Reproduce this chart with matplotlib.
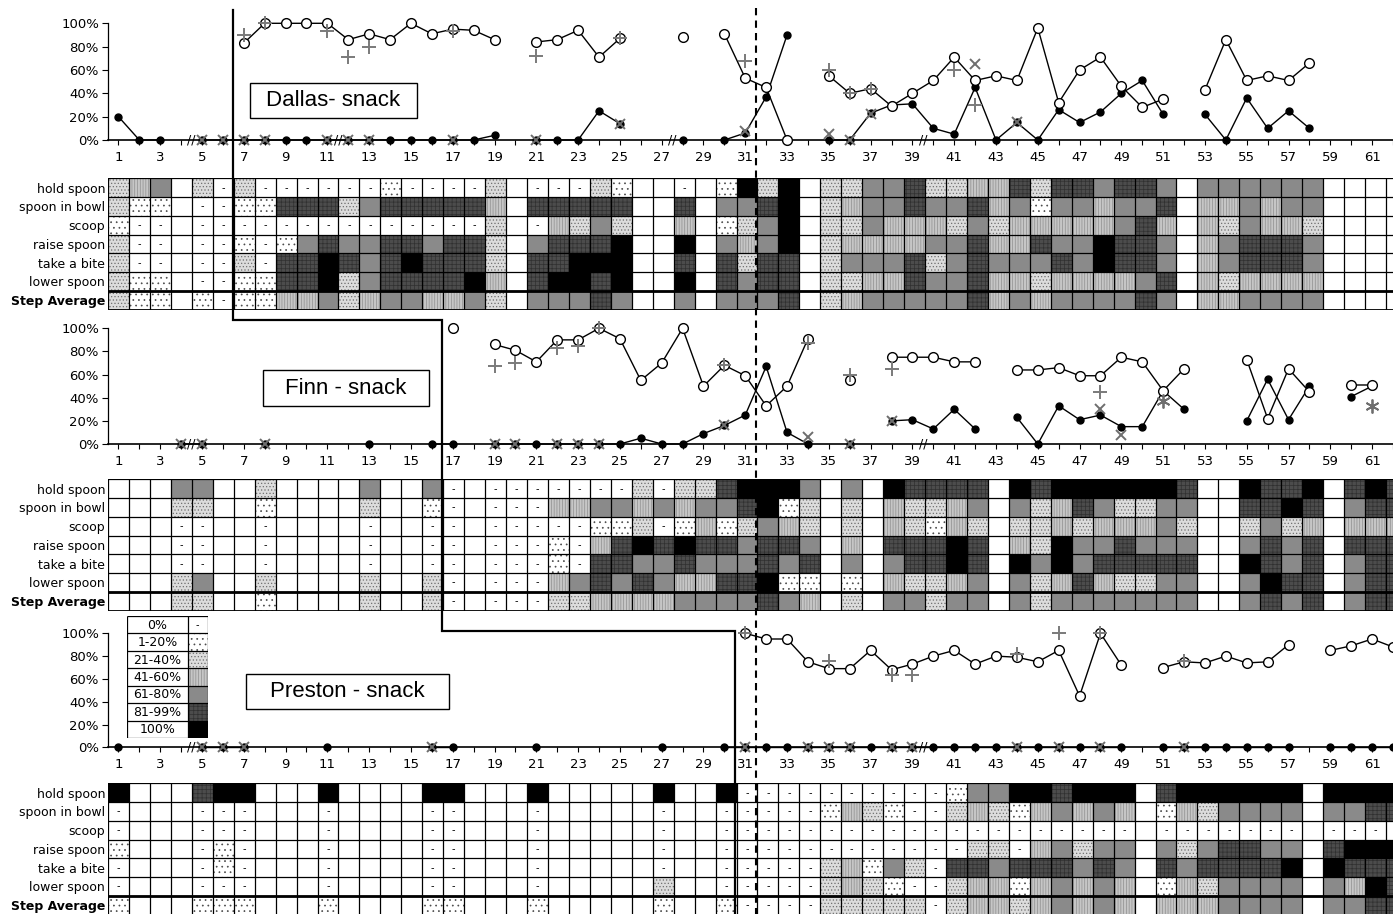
import numpy as np
import matplotlib
matplotlib.use("Agg")
import matplotlib.pyplot as plt
from matplotlib.lines import Line2D
from matplotlib.patches import Rectangle

# ------------------------------------------------------------------ data
sessions = np.arange(1, 63)
x_tick_values = list(range(1, 62, 2))
x_tick_labels = [str(s) for s in x_tick_values]
pct_ticks = [0, 20, 40, 60, 80, 100]
pct_labels = [f"{p}%" for p in pct_ticks]
step_labels = ["hold spoon", "spoon in bowl", "scoop", "raise spoon",
               "take a bite", "lower spoon", "Step Average"]
level_labels = ["0%", "1-20%", "21-40%", "41-60%", "61-80%", "81-99%", "100%"]
subject_titles = ["Dallas- snack", "Finn - snack", "Preston - snack"]

# Dallas line graph
dallas_open_s = [7, 8, 9, 10, 11, 12, 13, 14, 15, 16, 17, 18, 19, 21, 22, 23, 24, 25, 28,
                 30, 31, 32, 33, 35, 36, 37, 38, 39, 40, 41, 42, 43, 44, 45, 46, 47, 48, 49, 50, 51,
                 53, 54, 55, 56, 57, 58]
dallas_open_v = [83, 100, 100, 100, 100, 86, 91, 86, 100, 91, 95, 94, 86, 84, 86, 94, 71, 87, 88,
                 91, 53, 45, 0, 55, 40, 44, 29, 40, 51, 71, 51, 55, 51, 96, 32, 60, 71, 46, 28, 35,
                 43, 86, 51, 55, 51, 66]
dallas_fill_s = [1, 2, 3, 5, 6, 7, 8, 9, 10, 11, 12, 13, 14, 15, 16, 17, 18, 19, 21, 22, 23, 24, 25, 28,
                 30, 31, 32, 33, 35, 36, 37, 38, 39, 40, 41, 42, 43, 44, 45, 46, 47, 48, 49, 50, 51,
                 53, 54, 55, 56, 57, 58]
dallas_fill_v = [20, 0, 0, 0, 0, 0, 0, 0, 0, 0, 0, 0, 0, 0, 0, 0, 0, 4, 0, 0, 0, 25, 14, 0,
                 0, 6, 37, 90, 0, 0, 23, 30, 31, 10, 5, 45, 0, 15, 0, 26, 15, 24, 40, 51, 22,
                 22, 0, 36, 10, 25, 10]
dallas_plus_s = [7, 8, 11, 12, 13, 17, 21, 25, 31, 35, 36, 37, 41, 42]
dallas_plus_v = [90, 100, 93, 71, 80, 93, 72, 87, 68, 60, 40, 44, 60, 30]
dallas_x_s = [5, 6, 7, 8, 11, 12, 13, 17, 21, 25, 31, 35, 36, 37, 42, 44]
dallas_x_v = [0, 0, 0, 0, 0, 0, 0, 0, 0, 14, 8, 5, 0, 22, 65, 15]
dallas_breaks = [4.5, 11.5, 27.5, 39.5]

# Finn line graph
finn_open_s = [17, 19, 20, 21, 22, 23, 24, 25, 26, 27, 28, 29, 30, 31, 32, 33, 34, 36,
               38, 39, 40, 41, 42, 44, 45, 46, 47, 48, 49, 50, 51, 52, 55, 56, 57, 58, 60, 61]
finn_open_v = [100, 86, 81, 71, 90, 90, 100, 91, 55, 70, 100, 50, 68, 59, 33, 50, 91, 55,
               75, 75, 75, 71, 71, 64, 64, 66, 59, 59, 75, 71, 46, 65, 73, 22, 65, 45, 51, 51]
finn_fill_s = [4, 5, 8, 13, 16, 17, 19, 20, 21, 22, 23, 24, 25, 26, 27, 28, 29, 30, 31, 32, 33, 34, 36,
               38, 39, 40, 41, 42, 44, 45, 46, 47, 48, 49, 50, 51, 52, 55, 56, 57, 58, 60, 61]
finn_fill_v = [0, 0, 0, 0, 0, 0, 0, 0, 0, 0, 0, 0, 0, 5, 0, 0, 9, 16, 25, 67, 10, 0, 0,
               20, 21, 13, 30, 13, 23, 0, 33, 21, 25, 15, 15, 46, 30, 20, 56, 21, 50, 41, 50]
finn_plus_s = [19, 20, 22, 23, 24, 30, 34, 36, 38, 48]
finn_plus_v = [67, 70, 83, 85, 100, 68, 87, 60, 65, 45]
finn_x_s = [4, 5, 8, 19, 20, 22, 23, 24, 30, 34, 36, 38, 48, 49]
finn_x_v = [0, 0, 0, 0, 0, 0, 0, 0, 16, 6, 0, 20, 30, 8]
finn_star_s = [51, 61]
finn_star_v = [37, 33]
finn_breaks = [4.5, 39.5]

# Preston line graph
preston_open_s = [31, 32, 33, 34, 35, 36, 37, 38, 39, 40, 41, 42, 43, 44, 45, 46, 47, 48, 49,
                  51, 52, 53, 54, 55, 56, 57, 59, 60, 61, 62]
preston_open_v = [100, 95, 95, 75, 69, 69, 85, 68, 73, 80, 85, 73, 80, 79, 75, 85, 45, 100, 72,
                  70, 75, 74, 80, 74, 75, 90, 85, 89, 95, 88]
preston_fill_s = [1, 5, 6, 7, 11, 16, 17, 21, 27, 30, 31, 32, 33, 34, 35, 36, 37, 38, 39, 40, 41, 42,
                  43, 44, 45, 46, 47, 48, 49, 51, 52, 53, 54, 55, 56, 57, 59, 60, 61, 62]
preston_fill_v = [0] * len(preston_fill_s)
preston_plus_s = [31, 35, 38, 39, 44, 46, 48, 52]
preston_plus_v = [100, 76, 63, 63, 82, 100, 100, 76]
preston_x_s = [5, 6, 7, 16, 31, 34, 35, 36, 38, 39, 44, 46, 48, 52]
preston_x_v = [0] * len(preston_x_s)
preston_breaks = [4.5, 39.5]

# Step-level tables: one character per session (1..62)
# '_' = no session, '0' = 0%, '1' = 1-20%, '2' = 21-40%, '3' = 41-60%,
# '4' = 61-80%, '5' = 81-99%, '6' = 100%
dallas_steps = [
    "234_202000000100002_00021__0" + "_1626_22445223352554554_444444____",
    "211_001155524555553_55555__5" + "_4456_23445445341443445_334344____",
    "100_000000000000002_03242__3" + "_1246_22433324233333453_324332____",
    "200_001014544554552_45556__6" + "_4346_23333445335446554_345554____",
    "200_002055654565552_55666__5" + "_5255_24445245444546554_345554____",
    "211_001155624555563_56656__6" + "_5455_22335445332333345_323333____",
    "211_101133423443342_44454__4" + "_4445_23444445343444454_334444____",
]
finn_steps = [
    "___44__2____4__40_0000000202" + "256664_4_65555_656666665__6556_565",
    "___22__1____2__10_0003344343" + "445612_2_32234_423542244__5565_455",
    "___00__0____0__00_0000011201" + "312432_2_32132_223233342__2423_333",
    "___00__0____0__00_0001035656" + "554554_3_55565_326445444__4545_555",
    "___00__0____0__00_0001055445" + "444545_4_45565_646455555__6545_455",
    "___24__2____2__20_0003454543" + "355611_1_32234_423532244__4655_455",
    "___22__1____2__20_0002233334" + "444543_2_44244_424444444__4545_455",
]
preston_steps = [
    "6___566___6____66___6_____6_" + "_60000000000144665666_5666666_6666",
    "0___000___0____00___0_____0_" + "_00000132100232134343_1324444_4455",
    "0___000___0____00___0_____0_" + "_00000000000000000000_0000000_0000",
    "1___010___0____00___0_____0_" + "_00000000000022034244_4245544_5666",
    "0___010___0____00___0_____0_" + "_00000231420554555454_5455556_6555",
    "0___000___0____00___0_____2_" + "_00000232100233134343_1324444_4365",
    "1___111___1____11___1_____1_" + "_10000222220233234343_3334444_4455",
]

# phase changes (between sessions)
dallas_phase = 6.5
finn_phase = 16.5
preston_phase = 30.5
dashed_phase = 31.5

# ------------------------------------------------------------------ style
plt.rcParams['font.family'] = ['DejaVu Sans']
plt.rcParams['hatch.linewidth'] = 0.5

LEVEL_STYLE = {
    1: dict(face='white', hatch='...', hc='#4a4a4a'),
    2: dict(face='#dcdcdc', hatch='.....', hc='#707070'),
    3: dict(face='#c6c6c6', hatch='||||||', hc='#8e8e8e'),
    4: dict(face='#8a8a8a', hatch=None, hc='#8a8a8a'),
    5: dict(face='#4c4c4c', hatch='++++', hc='#303030'),
    6: dict(face='#000000', hatch=None, hc='#000000'),
}

W, H = 1393, 914
fig = plt.figure(figsize=(W / 100, H / 100), dpi=100)


def frac(x0, y0, x1, y1):
    return [x0 / W, 1 - y1 / H, (x1 - x0) / W, (y1 - y0) / H]


AX_LEFT, AX_RIGHT = 108, 1393
XLIM = (0.5, 0.5 + (AX_RIGHT - AX_LEFT) / 20.95)


def full(s, v):
    arr = np.full(len(sessions), np.nan)
    arr[np.array(s) - 1] = v
    return arr


def line_panel(top, bottom, open_s, open_v, fill_s, fill_v, plus_s, plus_v,
               x_s, x_v, breaks, star_s=None, star_v=None):
    ax = fig.add_axes(frac(AX_LEFT, top, AX_RIGHT, bottom))
    ax.patch.set_alpha(0)
    ax.set_xlim(*XLIM)
    ax.set_ylim(0, 100)
    for sp in ('top', 'right'):
        ax.spines[sp].set_visible(False)
    ax.spines['left'].set_bounds(0, 100)
    ax.spines['left'].set_linewidth(0.9)
    ax.spines['bottom'].set_linewidth(1.2)
    ax.set_yticks(pct_ticks)
    ax.set_yticklabels(pct_labels)
    ax.set_xticks(x_tick_values)
    ax.set_xticklabels(x_tick_labels)
    ax.set_xticks(sessions, minor=True)
    ax.tick_params(axis='x', which='both', direction='out', length=3.5, width=0.8,
                   pad=4.5, labelsize=9.5)
    ax.tick_params(axis='y', direction='out', length=4, width=0.8, pad=2.5, labelsize=9.5)
    ax.plot(sessions, full(fill_s, fill_v), '-', color='black', lw=1.0, marker='o', ms=5,
            mfc='black', mec='black', clip_on=False, zorder=3)
    ax.plot(sessions, full(open_s, open_v), '-', color='black', lw=1.0, marker='o', ms=7,
            mfc='white', mec='black', mew=1.0, clip_on=False, zorder=4)
    ax.plot(x_s, x_v, ls='none', marker='x', ms=7.5, mew=1.4, color='#6e6e6e',
            clip_on=False, zorder=5)
    ax.plot(plus_s, plus_v, ls='none', marker='+', ms=10, mew=1.4, color='#7a7a7a',
            clip_on=False, zorder=5)
    if star_s:
        ax.plot(star_s, star_v, ls='none', marker=(6, 2, 0), ms=10, mew=1.3, color='#6e6e6e',
                clip_on=False, zorder=5)
    for b in breaks:
        ax.text(b, 0, '//', ha='center', va='center', fontsize=9, zorder=6)
    return ax


def heat_panel(top, rows):
    row_h = 18.75
    ax = fig.add_axes(frac(AX_LEFT, top, AX_RIGHT, top + row_h * 7))
    ax.set_xlim(*XLIM)
    ax.set_ylim(7, 0)
    for sp in ax.spines.values():
        sp.set_visible(False)
    ax.set_xticks([])
    ax.set_yticks(np.arange(7) + 0.5)
    ax.set_yticklabels(step_labels, fontsize=9)
    ax.get_yticklabels()[-1].set_fontweight('bold')
    ax.tick_params(axis='y', length=0, pad=2)
    for r, row in enumerate(rows):
        for lvl in range(1, 7):
            xs = [i + 1 for i, c in enumerate(row) if c == str(lvl)]
            if xs:
                st = LEVEL_STYLE[lvl]
                ax.bar(xs, 1, bottom=r, width=1, color=st['face'], edgecolor=st['hc'],
                       hatch=st['hatch'], linewidth=0, zorder=1)
        for i, c in enumerate(row):
            if c == '0' and i + 1 + 0.25 < XLIM[1]:
                ax.text(i + 1, r + 0.5, '-', ha='center', va='center', fontsize=7, zorder=2)
    ax.vlines(np.arange(0.5, 63.5), 0, 7, color='black', lw=0.9, zorder=3)
    ax.hlines(np.arange(0, 8), 0.5, 63, color='black', lw=0.9, zorder=3)
    ax.hlines([6, 7], 0.5, 63, color='black', lw=2.0, zorder=4)
    ax.hlines([0], 0.5, 63, color='black', lw=1.4, zorder=4)
    ax.vlines([0.5], 0, 7, color='black', lw=1.4, zorder=4)
    return ax


ax_d = line_panel(23.3, 140, dallas_open_s, dallas_open_v, dallas_fill_s, dallas_fill_v,
                  dallas_plus_s, dallas_plus_v, dallas_x_s, dallas_x_v, dallas_breaks)
heat_panel(178.3, dallas_steps)
ax_f = line_panel(328.3, 444, finn_open_s, finn_open_v, finn_fill_s, finn_fill_v,
                  finn_plus_s, finn_plus_v, finn_x_s, finn_x_v, finn_breaks,
                  finn_star_s, finn_star_v)
heat_panel(479.3, finn_steps)
ax_p = line_panel(633.3, 747.3, preston_open_s, preston_open_v, preston_fill_s, preston_fill_v,
                  preston_plus_s, preston_plus_v, preston_x_s, preston_x_v, preston_breaks)
heat_panel(783.3, preston_steps)

# subject boxes
title_boxes = [(250, 82.7, 417, 118.3), (262.5, 370, 428.6, 406), (245.5, 674, 448.7, 709.3)]
for title, (x0, y0, x1, y1) in zip(subject_titles, title_boxes):
    fig.patches.append(Rectangle((x0 / W, 1 - y1 / H), (x1 - x0) / W, (y1 - y0) / H,
                                 transform=fig.transFigure, facecolor='white',
                                 edgecolor='black', lw=1.0, zorder=5))
    fig.text((x0 + x1) / 2 / W, 1 - (y0 + y1) / 2 / H, title, ha='center', va='center',
             fontsize=16, family='Liberation Sans', zorder=6)

# legend table
lax = fig.add_axes(frac(127.2, 616, 207.6, 738.3))
lax.set_xlim(0, 4)
lax.set_ylim(7, 0)
lax.axis('off')
lax.add_patch(Rectangle((0, 0), 4, 7, facecolor='white', edgecolor='none', zorder=0))
for i, lab in enumerate(level_labels):
    lax.text(1.5, i + 0.52, lab, ha='center', va='center', fontsize=9, zorder=3)
    if i == 0:
        lax.text(3.5, i + 0.5, '-', ha='center', va='center', fontsize=7, zorder=3)
    else:
        st = LEVEL_STYLE[i]
        lax.bar([3.5], 1, bottom=i, width=1, color=st['face'], edgecolor=st['hc'],
                hatch=st['hatch'], linewidth=0, zorder=1)
lax.hlines(np.arange(0, 8), 0, 4, color='black', lw=0.9, zorder=4)
lax.vlines([0, 3, 4], 0, 7, color='black', lw=0.9, zorder=4)


# phase change lines (figure level)
def fx(s):
    return ax_d.transData.transform((s, 0))[0] / fig.bbox.width


def fy(py):
    return 1 - py / H


step_x = [fx(dallas_phase), fx(dallas_phase), fx(finn_phase), fx(finn_phase),
          fx(preston_phase), fx(preston_phase)]
step_y = [fy(10), fy(320), fy(320), fy(630.7), fy(630.7), fy(914)]
fig.add_artist(Line2D(step_x, step_y, transform=fig.transFigure, color='black', lw=1.6,
                      zorder=10, solid_joinstyle='miter'))
fig.add_artist(Line2D([fx(dashed_phase)] * 2, [fy(8), fy(914)], transform=fig.transFigure,
                      color='black', lw=1.5, ls=(0, (3.5, 2.5)), zorder=10))

fig.savefig('out.png', dpi=100)
